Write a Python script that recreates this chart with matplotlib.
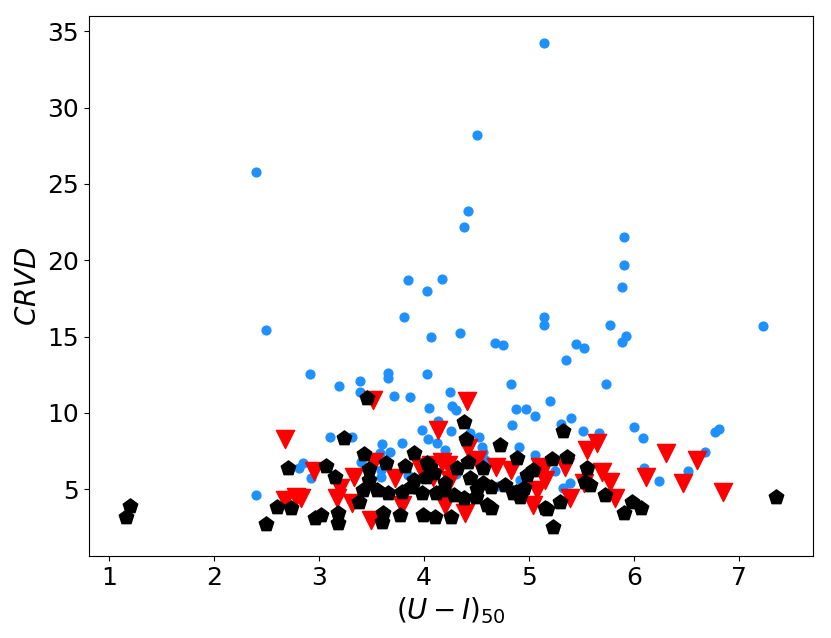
import matplotlib
matplotlib.use("Agg")
import matplotlib.pyplot as plt

# blue circles
blue_x = [2.40, 4.42, 4.38, 3.85, 4.17, 4.03, 3.81, 2.50, 4.07, 4.34, 4.67, 4.75,
          2.91, 3.19, 3.39, 3.39, 3.66, 3.66, 3.71, 3.87, 4.03, 4.25, 4.27, 4.30,
          4.05, 4.13, 4.50, 5.14, 5.90, 5.90, 5.88, 5.14, 5.14, 5.77, 5.92, 5.88,
          7.23, 5.45, 5.52, 5.35, 4.83, 5.73, 5.20, 4.87, 4.97, 5.06, 4.84, 5.40,
          5.30, 5.51, 5.66, 6.00, 6.08, 6.77, 6.81, 6.67, 6.09, 6.24, 6.51, 5.25,
          5.39, 5.32, 2.40, 2.85, 2.81, 2.92, 3.10, 3.31, 3.60, 3.79, 3.58, 3.68,
          3.40, 3.59, 3.59, 3.85, 3.98, 4.04, 4.12, 4.26, 4.44, 4.52, 4.20, 4.55,
          4.56, 4.90, 5.06, 4.58, 4.91, 4.30, 4.70, 3.90]
blue_y = [25.8, 23.2, 22.2, 18.7, 18.75, 18.0, 16.3, 15.45, 14.95, 15.25, 14.6, 14.45,
          12.57, 11.74, 12.1, 11.39, 12.6, 12.26, 11.13, 11.06, 12.57, 11.35, 10.47, 10.19,
          10.3, 9.45, 28.2, 34.2, 21.5, 19.7, 18.26, 16.3, 15.76, 15.74, 15.03, 14.67,
          15.7, 14.5, 14.27, 13.5, 11.9, 11.87, 10.8, 10.24, 10.28, 9.82, 9.23, 9.67,
          9.25, 8.8, 8.68, 9.08, 8.33, 8.75, 8.94, 7.46, 6.41, 5.56, 6.19, 6.19,
          5.39, 5.06, 4.62, 6.74, 6.37, 5.76, 8.44, 8.44, 7.96, 8.0, 7.39, 7.44,
          6.8, 6.26, 5.82, 5.93, 8.88, 8.27, 8.01, 8.83, 8.66, 8.4, 7.57, 7.79,
          7.46, 7.79, 7.24, 6.92, 5.6, 6.0, 5.2, 5.0]

# red triangles
red_x = [2.68, 2.95, 2.68, 2.78, 2.83, 3.51, 3.33, 3.20, 3.17, 3.31, 3.49, 3.72,
         3.52, 4.13, 3.96, 3.79, 4.41, 4.42, 4.50, 4.17, 4.23, 4.07, 4.68, 4.83,
         5.10, 4.08, 4.25, 5.07, 5.04, 4.20, 4.39, 5.65, 5.55, 5.34, 5.14, 5.15,
         5.69, 5.77, 5.82, 5.39, 5.52, 6.30, 6.60, 6.11, 6.46, 6.84]
red_y = [8.3, 6.2, 4.3, 4.5, 4.4, 10.85, 5.82, 5.06, 4.41, 4.08, 2.99, 5.72,
         6.8, 8.88, 6.48, 3.97, 10.8, 7.68, 6.92, 6.8, 6.59, 6.59, 6.48, 6.26,
         6.48, 5.82, 5.6, 4.95, 3.97, 3.97, 3.42, 8.01, 7.57, 6.48, 6.37, 5.6,
         6.15, 5.5, 4.41, 4.41, 5.39, 7.39, 6.92, 5.82, 5.43, 4.84]

# black pentagons
blk_x = [1.20, 1.16, 2.70, 2.60, 2.73, 2.50, 2.96, 3.02, 3.46, 3.24, 3.43, 3.64,
         3.90, 3.82, 4.03, 4.02, 3.07, 3.15, 3.48, 3.48, 3.42, 3.55, 3.66, 3.79,
         3.88, 3.98, 4.11, 3.38, 3.18, 3.18, 3.61, 3.77, 3.60, 3.99, 4.10, 4.38,
         4.40, 4.72, 4.88, 4.42, 4.56, 5.04, 4.98, 4.06, 4.09, 4.31, 4.44, 4.56,
         4.64, 4.77, 4.87, 4.95, 4.18, 4.28, 4.38, 4.49, 4.60, 4.64, 4.85, 4.91,
         4.26, 5.15, 5.32, 5.22, 5.36, 5.55, 5.53, 5.58, 5.72, 5.29, 5.17, 5.23,
         5.90, 5.98, 6.06, 7.35, 4.20, 4.50, 3.90]
blk_y = [3.9, 3.16, 6.4, 3.86, 3.8, 2.72, 3.1, 3.3, 10.95, 8.33, 7.31, 6.70,
         7.39, 6.52, 6.7, 5.82, 6.52, 5.82, 6.3, 5.6, 4.95, 4.95, 4.73, 4.84,
         5.17, 4.73, 4.73, 4.18, 3.42, 2.77, 3.42, 3.31, 2.88, 3.31, 3.2, 9.42,
         8.27, 7.9, 7.03, 6.8, 6.37, 6.26, 5.93, 6.48, 6.06, 6.37, 5.72, 5.39,
         5.17, 5.28, 4.84, 5.06, 4.95, 4.62, 4.41, 4.51, 3.97, 3.75, 4.73, 4.51,
         3.2, 3.75, 8.83, 6.96, 7.13, 6.41, 5.5, 5.28, 4.62, 4.18, 3.69, 2.55,
         3.42, 4.18, 3.75, 4.51, 5.4, 5.0, 5.6]

fig = plt.figure(figsize=(8.31, 6.38), dpi=100)
ax = fig.add_axes([0.107, 0.1285, 0.8712, 0.8464])
ax.scatter(blue_x, blue_y, s=40, c="dodgerblue", marker="o")
ax.scatter(red_x, red_y, s=170, c="red", marker="v")
ax.scatter(blk_x, blk_y, s=120, c="black", marker="p")

ax.set_xlim(0.81, 7.70)
ax.set_ylim(0.63, 36.0)
ax.set_xticks([1, 2, 3, 4, 5, 6, 7])
ax.set_yticks([5, 10, 15, 20, 25, 30, 35])
ax.tick_params(labelsize=18)
ax.set_xlabel(r"$(U-I)_{50}$", fontsize=20)
ax.set_ylabel(r"$CRVD$", fontsize=20)

fig.savefig("out.png", dpi=100)
